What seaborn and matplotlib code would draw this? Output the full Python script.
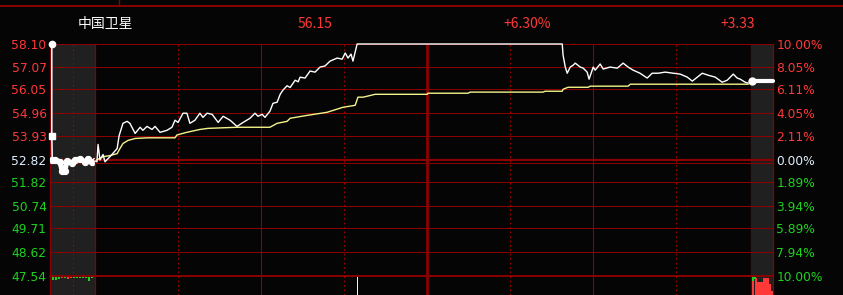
import matplotlib
matplotlib.use("Agg")
import matplotlib.pyplot as plt
import matplotlib.transforms as mtransforms
from matplotlib.lines import Line2D
import pandas as pd
import seaborn as sns

# ---------------- data ----------------
stock_name = "中国卫星"
header_price = "56.15"
header_pct = "+6.30%"
header_chg = "+3.33"
prev_close = 52.82

price_ticks = [58.10, 57.07, 56.05, 54.96, 53.93, 52.82, 51.82, 50.74, 49.71, 48.62, 47.54]
price_labels = ["58.10", "57.07", "56.05", "54.96", "53.93", "52.82",
                "51.82", "50.74", "49.71", "48.62", "47.54"]
pct_labels = ["10.00%", "8.05%", "6.11%", "4.05%", "2.11%", "0.00%",
              "1.89%", "3.94%", "5.89%", "7.94%", "10.00%"]

# opening call auction 9:15-9:25 (minutes after 9:15)
open_auction_min = [0.4, 0.4, 0.5, 1.1, 2.2, 2.7, 3.3, 3.8, 4.9, 5.6, 6.7, 7.8, 8.4, 9.3, 9.9]
open_auction_price = [58.10, 53.93, 52.84, 52.84, 52.74, 52.32, 52.32, 52.78,
                      52.70, 52.84, 52.86, 52.74, 52.88, 52.72, 52.78]

# continuous session (trading minutes after 9:30)
session_min = [
    0.0, 0.7, 1.1, 1.8, 2.9, 3.6, 5.4, 8.0,
    8.7, 10.1, 11.6, 12.6, 14.5, 16.3, 17.3, 18.8,
    20.6, 21.7, 23.5, 26.0, 27.8, 28.9, 30.0, 31.8,
    33.2, 34.3, 36.1, 37.9, 39.0, 40.5, 42.3, 44.5,
    46.3, 48.8, 51.3, 53.5, 56.0, 57.8, 58.9, 60.4,
    61.4, 63.2, 64.3, 65.8, 66.9, 67.9, 69.4, 70.5,
    72.3, 73.4, 74.1, 75.9, 77.7, 79.5, 81.3, 83.1,
    84.9, 87.5, 89.3, 90.4, 91.4, 92.5, 93.2, 94.7,
    168.8, 169.1, 169.9, 170.6, 171.7, 172.8, 173.5, 175.3,
    176.4, 177.8, 178.5, 180.0, 180.7, 182.5, 183.6, 186.1,
    188.7, 190.8, 192.6, 194.4, 196.9, 199.5, 201.3, 203.5,
    206.0, 208.9, 211.4, 214.0, 215.8, 217.6, 219.4, 221.5,
    224.1, 226.6, 228.4, 230.6, 232.0, 233.1, 234.9, 236.0,
]
session_price = [
    52.78, 52.74, 53.53, 52.82, 53.07, 52.74, 52.97, 53.34,
    53.92, 54.49, 54.58, 54.49, 54.03, 54.31, 54.17, 54.35,
    54.21, 54.35, 54.08, 54.17, 54.31, 54.63, 54.53, 54.95,
    54.95, 54.49, 54.63, 54.95, 54.76, 54.95, 54.90, 54.53,
    54.81, 54.63, 54.35, 54.53, 54.72, 54.95, 54.81, 54.90,
    54.76, 55.04, 55.40, 55.45, 55.81, 56.00, 56.20, 56.12,
    56.45, 56.38, 56.59, 56.55, 56.87, 56.82, 57.05, 57.10,
    57.32, 57.46, 57.41, 57.69, 57.46, 57.64, 57.32, 58.10,
    58.10, 57.60, 57.05, 56.77, 57.05, 57.14, 57.23, 57.05,
    57.00, 56.82, 56.50, 57.05, 56.91, 57.19, 56.96, 57.05,
    57.00, 57.23, 57.05, 56.91, 56.77, 56.55, 56.77, 56.77,
    56.82, 56.77, 56.73, 56.59, 56.41, 56.59, 56.77, 56.68,
    56.59, 56.36, 56.45, 56.73, 56.55, 56.50, 56.36, 56.32,
]
avg_min = [0.7, 2.9, 5.4, 8.0, 9.0, 10.1, 11.9, 14.5, 19.2, 28.9,
           29.6, 33.2, 37.9, 40.8, 51.3, 63.2, 65.8, 69.4, 70.5, 76.6,
           83.8, 89.6, 94.0, 95.0, 96.9, 101.2, 120.0, 120.3, 134.8, 135.5,
           161.9, 162.6, 168.8, 169.1, 170.9, 178.2, 178.9, 192.6, 193.4, 236.0]
avg_price = [52.83, 52.97, 53.02, 53.11, 53.34, 53.57, 53.71, 53.80, 53.83, 53.83,
             53.96, 54.08, 54.21, 54.26, 54.31, 54.31, 54.49, 54.58, 54.72, 54.85,
             54.99, 55.22, 55.31, 55.68, 55.68, 55.81, 55.81, 55.86, 55.86, 55.91,
             55.91, 55.95, 55.95, 56.04, 56.13, 56.13, 56.18, 56.18, 56.27, 56.27]

# closing call auction 14:57-15:00 (minutes after 14:57)
close_auction_min = [0.2, 3.0]
close_auction_price = [56.41, 56.41]

# volume (relative to the visible strip)
session_vol_min = [94.7]
session_vol = [1.0]
open_vol_min = [0.67, 1.33, 2.0, 2.67, 3.33, 4.0, 4.67, 5.33, 6.0, 6.67, 7.33, 8.0, 8.67, 9.33]
open_vol = [0.17, 0.17, 0.10, 0.07, 0.07, 0.10, 0.07, 0.07, 0.07, 0.07, 0.07, 0.07, 0.22, 0.07]
open_vol_up = [False, False, False, True, False, True, True, False, False, False, False, False, False, False]
close_vol_min = [0.27, 0.68, 0.95, 1.23, 1.50, 1.77, 2.05, 2.32, 2.59, 2.86]
close_vol = [0.85, 0.96, 0.74, 0.74, 0.74, 0.93, 0.93, 0.93, 0.60, 0.20]
close_vol_up = [True, True, True, True, True, True, True, True, True, True]
close_unmatched_min = [0.27, 0.55]
close_unmatched = [0.2, 0.12]

session_len = 237          # 9:30 -> 14:57 trading minutes
open_auction_len = 10      # 9:15 -> 9:25
close_auction_len = 3      # 14:57 -> 15:00
half_hour_marks = [30, 60, 90, 120, 150, 180, 210]

# ---------------- style ----------------
BG = "#050505"
GRAY = "#202020"
GRID = "#8b0000"
GRID_DOT = "#a00000"
RED = "#ff3838"
GREEN = "#1ed21e"
NEUTRAL = "#e2f0ff"
WHITE = "#ffffff"
YELLOW = "#f3f38a"

sns.set_theme(style="dark")
plt.rcParams["font.family"] = ["DejaVu Sans", "Noto Sans CJK SC"]

W, H = 843, 295
fig = plt.figure(figsize=(W / 100, H / 100), dpi=100, facecolor=BG)

top_px, low_tick_px, bot_px = 44, 276, 295
px_per_unit = (low_tick_px - top_px) / (price_ticks[0] - price_ticks[-1])
y_hi = price_ticks[0]
y_lo = price_ticks[-1] - (bot_px - low_tick_px) / px_per_unit


def price_axes(x0, x1, xlim, face):
    ax = fig.add_axes([x0 / W, 0, (x1 - x0) / W, (H - top_px) / H])
    ax.set_facecolor(face)
    for s in ax.spines.values():
        s.set_visible(False)
    ax.set_xlim(*xlim)
    ax.set_ylim(y_lo, y_hi)
    ax.set_xticks([])
    ax.set_yticks([])
    ax.grid(False)
    return ax


def vol_axes(x0, x1, xlim):
    ax = fig.add_axes([x0 / W, 0, (x1 - x0) / W, (H - 277) / H])
    ax.set_xlim(*xlim)
    ax.set_ylim(0, 1)
    ax.axis("off")
    ax.patch.set_alpha(0)
    return ax


ax_pre = price_axes(50, 95, (0, open_auction_len), GRAY)
ax_main = price_axes(95, 751, (0, session_len), BG)
ax_post = price_axes(751, 773, (0, close_auction_len), GRAY)

# horizontal grid
for ax in (ax_pre, ax_main, ax_post):
    for i, tk in enumerate(price_ticks):
        lw = 1.4 if i == len(price_ticks) - 1 else 0.75
        if tk == prev_close:
            lw = 1.6
        ax.axhline(tk, color=GRID, lw=lw, zorder=1, clip_on=False)
    ln = ax.axhline(prev_close, color=GRID, lw=0.75, zorder=1)
    ln.set_transform(ln.get_transform() +
                     mtransforms.ScaledTranslation(0, -3 / 100, fig.dpi_scale_trans))

# vertical grid
ax_pre.axvline(0, color=GRID, lw=0.9, clip_on=False, zorder=1)
ax_pre.axvline(open_auction_len / 2, color=GRID_DOT, lw=0.8, ls=(0, (1.5, 2.5)), zorder=1)
ax_main.axvline(0, color=GRID, lw=0.9, clip_on=False, zorder=1)
ax_main.axvline(session_len, color=GRID, lw=0.9, clip_on=False, zorder=1)
ax_post.axvline(close_auction_len, color=GRID, lw=0.9, clip_on=False, zorder=1)
for m in half_hour_marks:
    if m % 60:
        ax_main.axvline(m, color=GRID_DOT, lw=0.8, ls=(0, (1.5, 2.5)), zorder=1)
    elif m == 120:
        ax_main.axvline(m, color=GRID, lw=2.0, zorder=1)
    else:
        ax_main.axvline(m, color=GRID, lw=0.8, zorder=1)

# price lines
df_sess = pd.DataFrame({"minute": session_min, "price": session_price})
df_avg = pd.DataFrame({"minute": avg_min, "price": avg_price})
sns.lineplot(data=df_avg, x="minute", y="price", ax=ax_main, color=YELLOW, lw=1.0,
             estimator=None, sort=False, legend=False, zorder=3, clip_on=False)
sns.lineplot(data=df_sess, x="minute", y="price", ax=ax_main, color=WHITE, lw=1.0,
             estimator=None, sort=False, legend=False, zorder=4, clip_on=False)

df_open = pd.DataFrame({"minute": open_auction_min, "price": open_auction_price})
sns.lineplot(data=df_open, x="minute", y="price", ax=ax_pre, color=WHITE, lw=1.1,
             estimator=None, sort=False, legend=False, zorder=4, clip_on=False)
sns.lineplot(data=df_open.iloc[2:], x="minute", y="price", ax=ax_pre, color=WHITE, lw=3.6,
             estimator=None, sort=False, legend=False, zorder=4, marker="o", ms=4.5,
             mec=WHITE, solid_capstyle="round", solid_joinstyle="round")
ax_pre.plot(df_open["minute"].iloc[:1], df_open["price"].iloc[:1], "o", color=WHITE, ms=4.5,
            zorder=5, clip_on=False)
ax_pre.plot(df_open["minute"].iloc[1:2], df_open["price"].iloc[1:2], "s", color=WHITE, ms=4,
            zorder=5, clip_on=False)

df_close = pd.DataFrame({"minute": close_auction_min, "price": close_auction_price})
sns.lineplot(data=df_close, x="minute", y="price", ax=ax_post, color=WHITE, lw=3.0,
             estimator=None, sort=False, legend=False, zorder=4, clip_on=False)
ax_post.plot(df_close["minute"].iloc[:1], df_close["price"].iloc[:1], "o", color=WHITE, ms=5,
             zorder=5, clip_on=False)

for ax, xl in ((ax_pre, (0, open_auction_len)), (ax_main, (0, session_len)),
               (ax_post, (0, close_auction_len))):
    ax.set_xlabel("")
    ax.set_ylabel("")
    ax.set_xlim(*xl)
    ax.set_ylim(y_lo, y_hi)
    ax.set_xticks([])


def tick_color(v):
    if v > prev_close:
        return RED
    if v < prev_close:
        return GREEN
    return NEUTRAL


# left labels
ax_pre.set_yticks(price_ticks)
ax_pre.set_yticklabels(price_labels)
ax_pre.tick_params(axis="y", length=0, pad=2.5, labelsize=8.8)
for lab, v in zip(ax_pre.get_yticklabels(), price_ticks):
    lab.set_color(tick_color(v))

# right labels
ax_post.yaxis.tick_right()
ax_post.set_yticks(price_ticks)
ax_post.set_yticklabels(pct_labels)
ax_post.tick_params(axis="y", length=0, pad=2.5, labelsize=8.8, left=False,
                    labelleft=False, right=False, labelright=True)
for lab, v in zip(ax_post.get_yticklabels(), price_ticks):
    lab.set_color(tick_color(v))

# volume strip
av_pre = vol_axes(50, 95, (0, open_auction_len))
av_main = vol_axes(95, 751, (0, session_len))
av_post = vol_axes(751, 773, (0, close_auction_len))
av_main.bar(session_vol_min, session_vol, width=0.4, color="#fff6c6", linewidth=0)
av_pre.bar(open_vol_min, [-h for h in open_vol], bottom=1, width=0.6,
           color=[RED if u else GREEN for u in open_vol_up], linewidth=0)
av_post.bar(close_vol_min, close_vol, width=0.28,
            color=[RED if u else GREEN for u in close_vol_up], linewidth=0)
av_post.bar(close_unmatched_min, [-h for h in close_unmatched], bottom=1, width=0.28,
            color=GREEN, linewidth=0)

# header
fig.add_artist(Line2D([0, 1], [1 - 6 / H] * 2, color=GRID, lw=1.4))
fig.add_artist(Line2D([119 / W] * 2, [1, 1 - 6 / H], color=GRID, lw=1.0))
hy = 1 - 24 / H
hfam = ["Noto Sans CJK SC", "DejaVu Sans"]
fig.text(105 / W, hy, stock_name, ha="center", va="center", color=WHITE, fontsize=10, family=hfam)
fig.text(315 / W, hy, header_price, ha="center", va="center", color=RED, fontsize=10, family=hfam)
fig.text(527 / W, hy, header_pct, ha="center", va="center", color=RED, fontsize=10, family=hfam)
fig.text(738 / W, hy, header_chg, ha="center", va="center", color=RED, fontsize=10, family=hfam)

fig.savefig("out.png", dpi=100, facecolor=BG)
